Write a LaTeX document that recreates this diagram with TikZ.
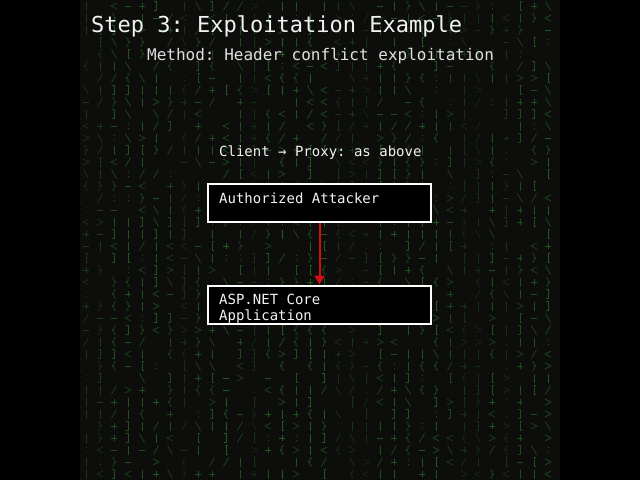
\documentclass[tikz,border=0pt]{standalone}
\usepackage{fontspec}
\setmonofont{DejaVu Sans Mono}
\usetikzlibrary{arrows.meta}
\definecolor{bgin}{HTML}{0D0D0C}
\definecolor{mgreen}{HTML}{3CC83C}
\definecolor{redarrow}{HTML}{D01010}
\definecolor{txtwhite}{HTML}{F2F2F2}
\tikzset{
  box/.style={draw=white, line width=2pt, fill=black, minimum width=223pt, minimum height=38pt, inner sep=0pt},
  lbl/.style={anchor=base west, inner sep=0pt, text=txtwhite, font=\ttfamily\fontsize{14}{16}\selectfont},
  titletext/.style={anchor=base west, inner sep=0pt, text=txtwhite, font=\ttfamily\fontsize{22}{26}\selectfont},
  subtext/.style={anchor=base west, inner sep=0pt, text=txtwhite!92!black, font=\ttfamily\fontsize{16}{19}\selectfont},
  flow/.style={draw=redarrow, line width=2pt, -{Triangle[width=10pt,length=9pt]}},
}
\begin{document}
\begin{tikzpicture}[x=1pt,y=-1pt]
\useasboundingbox (0,0) rectangle (640,480);
\fill[black] (0,0) rectangle (640,480);
\fill[bgin] (80,0) rectangle (560,480);
% matrix-like background texture
\pgfmathsetseed{11}
\foreach \i in {0,...,33}{
  \pgfmathrandominteger{\colop}{18}{42}
  \foreach \j in {0,...,39}{
    \pgfmathsetmacro{\cx}{86+\i*14}
    \pgfmathsetmacro{\cy}{6+\j*12}
    \pgfmathrandominteger{\g}{0}{15}
    \begin{scope}[shift={(\cx,\cy)}, draw=mgreen!\colop!bgin, line width=0.6pt]
    \ifcase\g\relax
      \draw (0,-4.5) -- (0,4.5);
    \or \draw (-2.5,4.5) -- (2.5,-4.5);
    \or \draw (-2.5,-4.5) -- (2.5,4.5);
    \or \draw (3,-3) -- (-3,0) -- (3,3);
    \or \draw (-3,-3) -- (3,0) -- (-3,3);
    \or \draw (-3,0) -- (3,0);
    \or \draw (-3,0) -- (3,0) (0,-3) -- (0,3);
    \or \draw (2,-4.5) -- (0,-3.5) -- (0,-1) -- (-2,0) -- (0,1) -- (0,3.5) -- (2,4.5);
    \or \draw (-2,-4.5) -- (0,-3.5) -- (0,-1) -- (2,0) -- (0,1) -- (0,3.5) -- (-2,4.5);
    \or \draw (2,-4.5) -- (0,-4.5) -- (0,4.5) -- (2,4.5);
    \or \draw (-2,-4.5) -- (0,-4.5) -- (0,4.5) -- (-2,4.5);
    \or \draw (0,-4.5) -- (0,4.5);
    \or \draw (0,-3) -- (0,-2) (0,2) -- (0,3);
    \or \draw (0,-4.5) -- (0,4.5);
    \or
    \fi
    \end{scope}
  }
}
% texts
\node[titletext] (title) at (91,32) {Step 3: Exploitation Example};
\node[subtext] (subtitle) at (147,60) {Method: Header conflict exploitation};
\node[lbl] (client) at (219,156) {Client → Proxy: as above};
% boxes
\node[box] (att) at (319.5,203) {};
\node[lbl] (attlbl) at (219,203) {Authorized Attacker};
\node[box] (app) at (319.5,304.5) {};
\node[lbl] (applbl1) at (219,304) {ASP.NET Core};
\node[lbl] (applbl2) at (219,320) {Application};
% connector
\draw[flow] (att.south) -- (app.north);
\end{tikzpicture}
\end{document}
